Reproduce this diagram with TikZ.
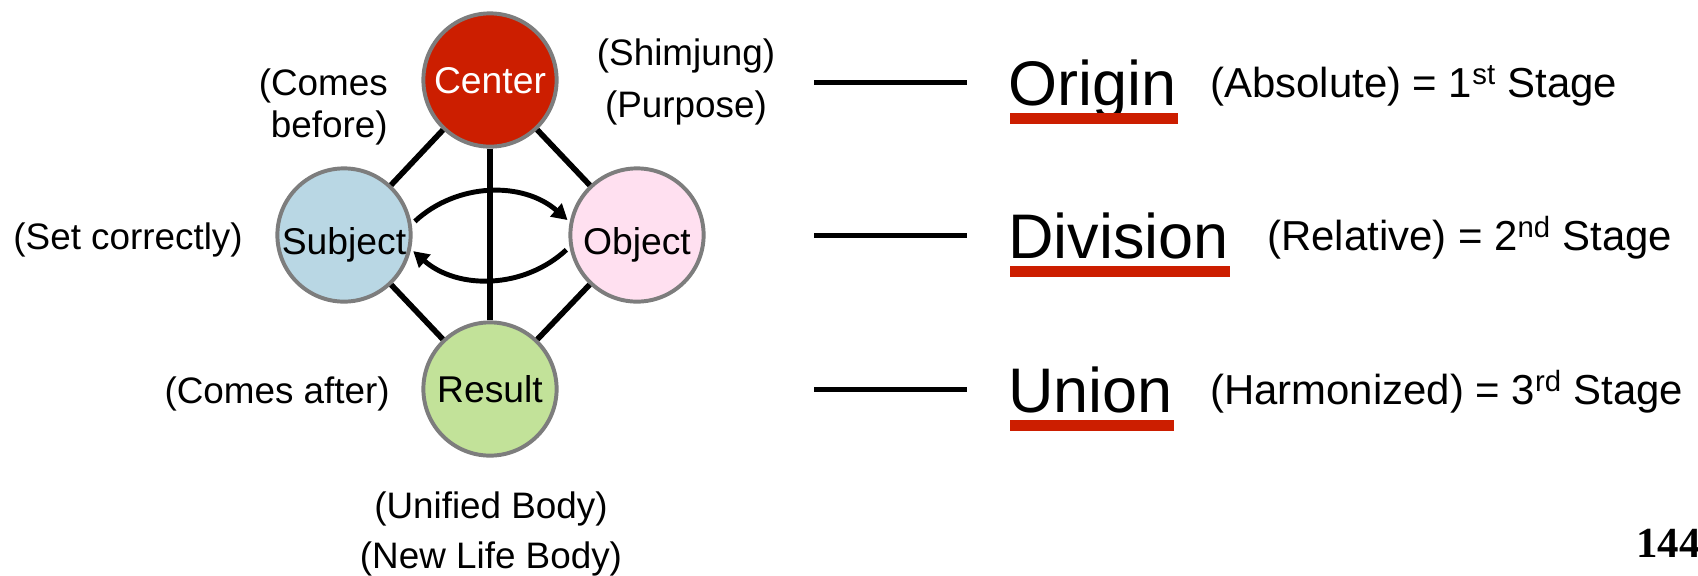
\documentclass[tikz,border=0pt]{standalone}
\usepackage{fontspec}
\setmainfont{Liberation Sans}
\newfontfamily\numfont{Liberation Serif}
\usetikzlibrary{arrows.meta,calc}
\definecolor{cred}{RGB}{204,30,0}
\definecolor{cblue}{RGB}{185,215,228}
\definecolor{cpink}{RGB}{255,224,240}
\definecolor{cgreen}{RGB}{194,226,153}
\definecolor{cgrey}{RGB}{125,125,125}
\begin{document}
\begin{tikzpicture}[x=0.025cm, y=-0.025cm]
    \tikzstyle{ball}=[circle, draw=cgrey, line width=2.8pt, minimum size=3.33cm, inner sep=0pt, text height=0.675cm, text depth=0pt, font=\fontsize{26.5}{30}\selectfont]
    \tikzstyle{lbl}=[inner sep=0pt, font=\fontsize{26.2}{30}\selectfont]
    \tikzstyle{link}=[line width=4pt]
    \tikzstyle{flow}=[line width=3.5pt, shorten <=3pt, shorten >=2pt, -{Triangle[length=11pt,width=12pt]}]
    \tikzstyle{word}=[inner sep=0pt, anchor=base west, font=\fontsize{44.8}{50}\selectfont]
    \tikzstyle{stage}=[inner sep=0pt, anchor=base west, font=\fontsize{29.8}{34}\selectfont]
    \useasboundingbox (0,0) rectangle (1698,575);
    \node[ball, fill=cred, text=white] (center) at (490,80) {Center};
    \node[ball, fill=cblue, text height=0.975cm] (subject) at (344,235) {Subject};
    \node[ball, fill=cpink, text height=0.975cm] (object) at (637,235) {Object};
    \node[ball, fill=cgreen] (result) at (490,389) {Result};
    \draw[link] (center) -- (subject);
    \draw[link] (center) -- (object);
    \draw[link] (subject) -- (result);
    \draw[link] (object) -- (result);
    \draw[link] (center) -- (result);
    \draw[flow] (subject.9) to[bend left=42] (object.169);
    \draw[flow] (object.190) to[bend left=42] (subject.-12);
    \node[lbl, anchor=base east] (before1) at (388,95) {(Comes};
    \node[lbl, anchor=base east] (before2) at (388,137) {before)};
    \node[lbl, anchor=base] (purpose1) at (686,65) {(Shimjung)};
    \node[lbl, anchor=base] (purpose2) at (686,117) {(Purpose)};
    \node[lbl, anchor=base east] (correct) at (243,249) {(Set correctly)};
    \node[lbl, anchor=base east] (after) at (390,403) {(Comes after)};
    \node[lbl, anchor=base] (body1) at (491,518) {(Unified Body)};
    \node[lbl, anchor=base] (body2) at (491,568) {(New Life Body)};
    \foreach \n/\y/\w/\sx/\s in {origin/105/Origin/1210/{(Absolute) = 1\textsuperscript{st} Stage}, division/258/Division/1267/{(Relative) = 2\textsuperscript{nd} Stage}, union/412/Union/1210/{(Harmonized) = 3\textsuperscript{rd} Stage}} {
      \coordinate (dash-\n) at (814,\y-22.5);
      \draw[line width=3.2pt] (dash-\n) -- ++(153,0);
      \node[word] (\n) at (1008,\y) {\w};
      \fill[cred] ($(\n.base west)+(2,8)$) rectangle ($(\n.base east)+(1,19)$);
      \node[stage] (\n-stage) at (\sx,\y-8) {\s};
    }
    \node[anchor=base west, inner sep=0pt, font=\numfont\bfseries\fontsize{30.5}{34}\selectfont] (page) at (1636,557) {144};
\end{tikzpicture}
\end{document}
